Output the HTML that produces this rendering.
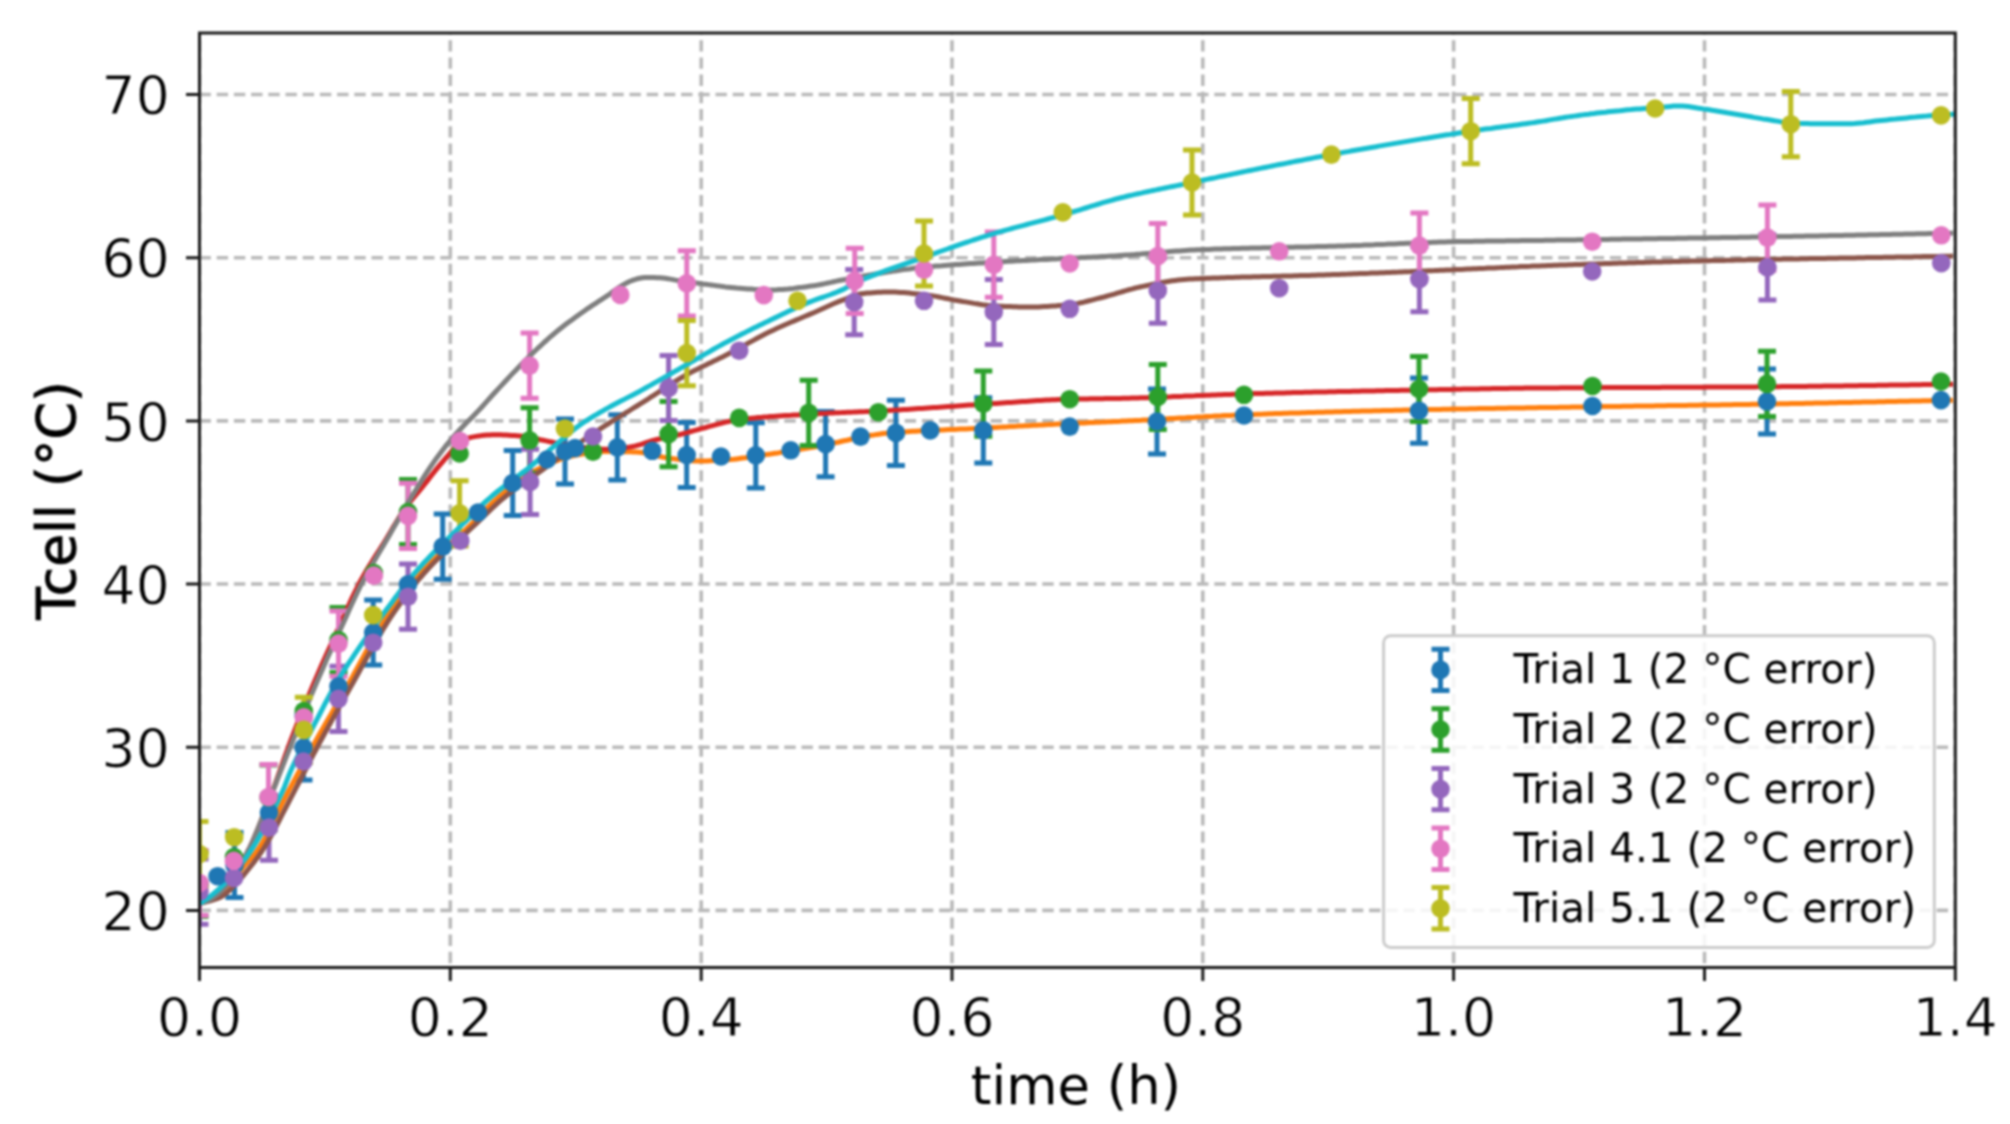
<!DOCTYPE html>
<html><head><meta charset="utf-8"><title>Tcell vs time</title>
<style>
html,body{margin:0;padding:0;background:#fff;}
body{width:2010px;height:1124px;overflow:hidden;}
svg{display:block;font-family:"DejaVu Sans","Liberation Sans",sans-serif;filter:blur(0.9px);}
.th{stroke:#fff;stroke-width:0.8px;}
.tk{stroke:#000;stroke-width:0.9px;}
</style></head><body>
<svg width="2010" height="1124" viewBox="0 0 2010 1124"><defs><clipPath id="ax"><rect x="199.5" y="33.0" width="1755.8" height="934.5"/></clipPath></defs><rect width="2010" height="1124" fill="#fff"/><g clip-path="url(#ax)" stroke="#b9b9b9" stroke-width="3.6" stroke-dasharray="11.4 5.8" fill="none"><path d="M199.5 967.5V33.0" stroke-dashoffset="-4.3"/><path d="M450.3 967.5V33.0" stroke-dashoffset="-4.3"/><path d="M701.2 967.5V33.0" stroke-dashoffset="-4.3"/><path d="M952.0 967.5V33.0" stroke-dashoffset="-4.3"/><path d="M1202.8 967.5V33.0" stroke-dashoffset="-4.3"/><path d="M1453.6 967.5V33.0" stroke-dashoffset="-4.3"/><path d="M1704.5 967.5V33.0" stroke-dashoffset="-4.3"/><path d="M1955.3 967.5V33.0" stroke-dashoffset="-4.3"/><path d="M199.5 910.4H1955.3"/><path d="M199.5 747.2H1955.3"/><path d="M199.5 584.0H1955.3"/><path d="M199.5 420.9H1955.3"/><path d="M199.5 257.7H1955.3"/><path d="M199.5 94.5H1955.3"/></g><g clip-path="url(#ax)"><path d="M234.5 832.4V897.6M225.5 832.4H243.5M225.5 897.6H243.5M303.5 714.9V780.1M294.5 714.9H312.5M294.5 780.1H312.5M373.2 599.9V665.1M364.2 599.9H382.2M364.2 665.1H382.2M442.7 514.0V579.2M433.7 514.0H451.7M433.7 579.2H451.7M512.7 450.4V515.6M503.7 450.4H521.7M503.7 515.6H521.7M565.0 418.9V484.1M556.0 418.9H574.0M556.0 484.1H574.0M617.3 414.7V479.9M608.3 414.7H626.3M608.3 479.9H626.3M686.7 422.4V487.6M677.7 422.4H695.7M677.7 487.6H695.7M755.8 422.7V487.9M746.8 422.7H764.8M746.8 487.9H764.8M825.6 411.5V476.7M816.6 411.5H834.6M816.6 476.7H834.6M895.9 400.3V465.5M886.9 400.3H904.9M886.9 465.5H904.9M983.3 397.8V463.0M974.3 397.8H992.3M974.3 463.0H992.3M1157.0 388.9V454.1M1148.0 388.9H1166.0M1148.0 454.1H1166.0M1419.0 378.1V443.3M1410.0 378.1H1428.0M1410.0 443.3H1428.0M1767.0 368.9V434.1M1758.0 368.9H1776.0M1758.0 434.1H1776.0" stroke="#1f77b4" stroke-width="5.0" fill="none"/><path d="M199.5 903.5 L202.0 902.6 L204.5 901.7 L207.0 900.7 L209.5 899.7 L212.0 898.5 L214.7 896.9 L217.3 894.9 L220.0 892.6 L222.7 890.2 L225.3 887.6 L228.0 885.0 L230.8 882.0 L233.7 878.8 L236.5 875.4 L239.3 871.9 L242.2 868.4 L245.0 865.0 L248.0 861.6 L251.0 858.3 L254.0 854.9 L257.0 851.0 L259.8 846.8 L262.6 842.2 L265.5 837.1 L268.3 831.8 L271.1 826.2 L273.9 820.5 L276.7 814.6 L279.5 808.8 L282.4 803.0 L285.2 797.4 L288.0 792.0 L290.9 786.6 L293.8 781.2 L296.7 775.8 L299.6 770.4 L302.4 765.1 L305.3 759.7 L308.2 754.5 L311.1 749.2 L314.0 744.0 L316.8 739.0 L319.6 734.0 L322.5 729.0 L325.3 724.1 L328.1 719.2 L330.9 714.4 L333.7 709.5 L336.5 704.6 L339.4 699.8 L342.2 694.9 L345.0 690.0 L347.9 684.8 L350.9 679.6 L353.8 674.3 L356.7 668.9 L359.7 663.5 L362.6 658.1 L365.5 652.7 L368.5 647.4 L371.4 642.2 L374.3 637.0 L377.3 632.0 L380.2 627.0 L383.1 622.3 L386.1 617.7 L389.0 613.4 L391.9 609.3 L394.7 605.4 L397.6 601.5 L400.4 597.8 L403.2 594.1 L406.1 590.6 L408.9 587.1 L411.8 583.7 L414.6 580.3 L417.5 577.1 L420.3 573.9 L423.2 570.7 L426.0 567.7 L428.8 564.7 L431.7 561.8 L434.5 559.0 L437.3 556.2 L440.1 553.5 L442.9 550.8 L445.8 548.2 L448.6 545.5 L451.4 542.9 L454.2 540.3 L457.0 537.7 L459.8 535.1 L462.7 532.4 L465.5 529.7 L468.3 527.0 L471.2 524.2 L474.1 521.2 L476.9 518.3 L479.8 515.3 L482.7 512.4 L485.6 509.5 L488.5 506.6 L491.4 503.8 L494.2 501.1 L497.1 498.5 L500.0 496.0 L502.9 493.6 L505.8 491.3 L508.7 488.9 L511.5 486.7 L514.4 484.4 L517.3 482.2 L520.2 480.1 L523.1 478.1 L526.0 476.1 L528.8 474.3 L531.7 472.5 L534.6 470.9 L537.5 469.4 L540.4 468.0 L543.2 466.6 L546.1 465.2 L549.0 463.9 L551.9 462.6 L554.8 461.4 L557.6 460.3 L560.5 459.2 L563.4 458.3 L566.2 457.4 L569.1 456.6 L572.0 456.0 L575.0 455.4 L578.0 454.8 L581.0 454.2 L584.0 453.7 L587.0 453.2 L590.0 452.7 L593.0 452.3 L596.0 452.0 L599.0 451.7 L602.0 451.6 L605.0 451.5 L607.8 451.5 L610.6 451.5 L613.5 451.5 L616.3 451.6 L619.1 451.6 L621.9 451.7 L624.7 451.7 L627.5 451.8 L630.4 451.8 L633.2 451.9 L636.0 452.0 L638.9 452.2 L641.8 452.5 L644.7 453.0 L647.6 453.6 L650.5 454.3 L653.5 455.0 L656.4 455.7 L659.3 456.4 L662.2 457.0 L665.1 457.6 L668.0 458.0 L671.0 458.4 L674.0 458.8 L677.0 459.2 L680.0 459.6 L683.0 460.0 L686.0 460.3 L689.0 460.6 L692.0 460.8 L695.0 461.0 L698.0 461.0 L701.0 461.0 L704.0 460.9 L707.0 460.9 L710.0 460.7 L713.0 460.6 L716.0 460.5 L719.0 460.3 L722.0 460.2 L725.0 460.0 L727.9 459.8 L730.8 459.6 L733.8 459.3 L736.7 458.9 L739.6 458.5 L742.5 458.1 L745.4 457.7 L748.3 457.2 L751.2 456.8 L754.2 456.4 L757.1 455.9 L760.0 455.5 L763.0 455.1 L766.0 454.6 L769.0 454.2 L772.0 453.8 L775.0 453.3 L778.0 452.9 L781.0 452.4 L784.0 451.9 L787.0 451.4 L790.0 451.0 L793.0 450.5 L796.0 450.0 L799.0 449.5 L802.0 449.0 L805.0 448.5 L808.0 448.0 L811.0 447.5 L814.0 447.0 L817.0 446.5 L820.0 445.9 L823.0 445.3 L826.0 444.7 L829.0 444.1 L832.0 443.5 L835.0 442.8 L838.0 442.2 L841.0 441.5 L844.0 440.8 L847.0 440.2 L850.0 439.5 L853.0 438.9 L856.0 438.2 L859.0 437.6 L862.0 437.0 L865.0 436.4 L868.0 435.9 L871.0 435.3 L874.0 434.9 L877.0 434.4 L880.0 434.0 L883.0 433.6 L886.0 433.3 L889.0 433.0 L892.0 432.8 L894.9 432.5 L897.9 432.3 L900.9 432.1 L903.8 431.9 L906.8 431.7 L909.8 431.5 L912.8 431.3 L915.7 431.2 L918.7 431.0 L921.7 430.8 L924.6 430.7 L927.6 430.5 L930.6 430.4 L933.5 430.3 L936.5 430.1 L939.5 430.0 L942.4 429.9 L945.4 429.7 L948.4 429.6 L951.3 429.5 L954.3 429.4 L957.3 429.2 L960.2 429.1 L963.2 429.0 L966.2 428.9 L969.2 428.7 L972.1 428.6 L975.1 428.4 L978.1 428.3 L981.0 428.2 L984.0 428.0 L986.9 427.8 L989.8 427.7 L992.8 427.5 L995.7 427.4 L998.6 427.2 L1001.5 427.1 L1004.5 426.9 L1007.4 426.8 L1010.3 426.6 L1013.2 426.4 L1016.2 426.3 L1019.1 426.1 L1022.0 426.0 L1024.9 425.8 L1027.8 425.7 L1030.8 425.5 L1033.7 425.3 L1036.6 425.2 L1039.5 425.0 L1042.5 424.9 L1045.4 424.7 L1048.3 424.6 L1051.2 424.4 L1054.2 424.3 L1057.1 424.1 L1060.0 424.0 L1063.0 423.9 L1066.0 423.7 L1069.0 423.6 L1072.0 423.4 L1075.0 423.3 L1078.0 423.1 L1081.0 423.0 L1084.0 422.9 L1087.0 422.7 L1090.0 422.6 L1093.0 422.5 L1096.0 422.3 L1099.0 422.2 L1102.0 422.1 L1105.0 421.9 L1108.0 421.8 L1111.0 421.7 L1114.0 421.5 L1117.0 421.4 L1120.0 421.3 L1123.0 421.1 L1126.0 421.0 L1129.0 420.8 L1132.0 420.7 L1135.0 420.5 L1138.0 420.4 L1141.0 420.3 L1143.9 420.1 L1146.9 419.9 L1149.9 419.8 L1152.9 419.6 L1155.8 419.5 L1158.8 419.3 L1161.8 419.1 L1164.8 419.0 L1167.7 418.8 L1170.7 418.6 L1173.7 418.5 L1176.6 418.3 L1179.6 418.1 L1182.6 417.9 L1185.6 417.8 L1188.5 417.6 L1191.5 417.4 L1194.5 417.3 L1197.5 417.1 L1200.4 416.9 L1203.4 416.8 L1206.4 416.6 L1209.4 416.4 L1212.3 416.3 L1215.3 416.1 L1218.3 415.9 L1221.2 415.8 L1224.2 415.6 L1227.2 415.5 L1230.2 415.4 L1233.1 415.2 L1236.1 415.1 L1239.1 415.0 L1242.1 414.8 L1245.0 414.7 L1248.0 414.6 L1251.0 414.5 L1254.0 414.4 L1257.0 414.3 L1260.0 414.2 L1263.0 414.1 L1266.0 413.9 L1269.0 413.8 L1272.0 413.7 L1275.0 413.6 L1278.0 413.5 L1281.0 413.4 L1284.0 413.3 L1287.0 413.2 L1290.0 413.1 L1293.0 413.1 L1296.0 413.0 L1299.0 412.9 L1302.0 412.8 L1305.0 412.7 L1308.0 412.6 L1311.0 412.5 L1314.0 412.4 L1317.0 412.3 L1320.0 412.2 L1323.0 412.2 L1326.0 412.1 L1329.0 412.0 L1332.0 411.9 L1335.0 411.8 L1338.0 411.7 L1341.0 411.7 L1344.0 411.6 L1347.0 411.5 L1350.0 411.4 L1353.0 411.3 L1356.0 411.3 L1359.0 411.2 L1362.0 411.1 L1365.0 411.0 L1368.0 411.0 L1371.0 410.9 L1374.0 410.8 L1377.0 410.8 L1380.0 410.7 L1383.0 410.6 L1386.0 410.5 L1389.0 410.5 L1392.0 410.4 L1395.0 410.3 L1398.0 410.3 L1401.0 410.2 L1404.0 410.1 L1407.0 410.1 L1410.0 410.0 L1413.0 409.9 L1416.0 409.9 L1419.0 409.8 L1422.0 409.7 L1425.0 409.7 L1428.0 409.6 L1431.0 409.5 L1434.0 409.5 L1437.0 409.4 L1440.0 409.4 L1443.0 409.3 L1446.0 409.2 L1449.0 409.2 L1452.0 409.1 L1455.0 409.1 L1458.0 409.0 L1461.0 409.0 L1464.0 408.9 L1467.0 408.9 L1470.0 408.8 L1473.0 408.8 L1476.0 408.7 L1479.0 408.6 L1482.0 408.6 L1485.0 408.5 L1488.0 408.5 L1491.0 408.4 L1494.0 408.4 L1497.0 408.3 L1500.0 408.3 L1503.0 408.2 L1506.0 408.2 L1509.0 408.1 L1512.0 408.1 L1515.0 408.0 L1518.0 408.0 L1521.0 407.9 L1524.0 407.9 L1527.0 407.8 L1530.0 407.8 L1533.0 407.7 L1536.0 407.7 L1539.0 407.6 L1542.0 407.6 L1545.0 407.5 L1548.0 407.5 L1551.0 407.4 L1554.0 407.4 L1557.0 407.4 L1560.0 407.3 L1563.0 407.3 L1566.0 407.2 L1569.0 407.2 L1572.0 407.1 L1575.0 407.1 L1578.0 407.0 L1581.0 407.0 L1584.0 406.9 L1587.0 406.9 L1590.0 406.8 L1593.0 406.8 L1596.0 406.7 L1599.0 406.7 L1602.0 406.6 L1605.0 406.6 L1608.0 406.5 L1611.0 406.5 L1614.0 406.4 L1617.0 406.4 L1620.0 406.4 L1623.0 406.3 L1626.0 406.3 L1629.0 406.2 L1632.0 406.2 L1635.0 406.1 L1638.0 406.1 L1641.0 406.0 L1644.0 406.0 L1647.0 406.0 L1650.0 405.9 L1653.0 405.9 L1656.0 405.8 L1659.0 405.8 L1662.0 405.7 L1665.0 405.7 L1668.0 405.6 L1671.0 405.6 L1674.0 405.6 L1677.0 405.5 L1680.0 405.5 L1683.0 405.4 L1686.0 405.4 L1689.0 405.3 L1692.0 405.3 L1695.0 405.2 L1698.0 405.2 L1701.0 405.1 L1704.0 405.1 L1707.0 405.0 L1710.0 405.0 L1713.0 405.0 L1716.0 404.9 L1719.0 404.9 L1722.0 404.8 L1725.0 404.8 L1728.0 404.7 L1731.0 404.7 L1734.0 404.6 L1737.0 404.6 L1740.0 404.5 L1743.0 404.5 L1746.0 404.4 L1749.0 404.4 L1752.0 404.3 L1755.0 404.3 L1758.0 404.2 L1761.0 404.2 L1764.0 404.1 L1767.0 404.0 L1770.0 404.0 L1773.0 403.9 L1776.0 403.9 L1779.0 403.8 L1782.0 403.8 L1785.0 403.7 L1788.0 403.7 L1791.0 403.6 L1794.0 403.5 L1797.0 403.5 L1800.0 403.4 L1803.0 403.4 L1806.0 403.3 L1809.0 403.2 L1812.0 403.2 L1815.0 403.1 L1818.0 403.1 L1821.0 403.0 L1824.0 402.9 L1827.0 402.9 L1830.0 402.8 L1833.0 402.8 L1836.0 402.7 L1839.0 402.6 L1842.0 402.6 L1845.0 402.5 L1848.0 402.4 L1851.0 402.4 L1854.0 402.3 L1857.0 402.2 L1860.0 402.2 L1863.0 402.1 L1866.0 402.1 L1869.0 402.0 L1872.0 401.9 L1875.0 401.9 L1878.0 401.8 L1881.0 401.7 L1884.0 401.7 L1887.0 401.6 L1890.0 401.5 L1893.0 401.5 L1896.0 401.4 L1899.0 401.3 L1902.0 401.3 L1905.0 401.2 L1908.0 401.2 L1911.0 401.1 L1914.0 401.0 L1917.0 401.0 L1920.0 400.9 L1923.0 400.8 L1926.0 400.8 L1929.0 400.7 L1932.0 400.6 L1935.0 400.6 L1938.0 400.5 L1941.0 400.4 L1944.0 400.4 L1947.0 400.3 L1950.0 400.3 L1953.0 400.2" stroke="#ff7f0e" stroke-width="5.0" fill="none" stroke-linejoin="round" stroke-linecap="butt"/><path d="M199.5 851.4V916.6M190.5 851.4H208.5M190.5 916.6H208.5M268.5 764.9V830.1M259.5 764.9H277.5M259.5 830.1H277.5M338.5 607.4V672.6M329.5 607.4H347.5M329.5 672.6H347.5M408.0 479.4V544.6M399.0 479.4H417.0M399.0 544.6H417.0M529.6 407.7V472.9M520.6 407.7H538.6M520.6 472.9H538.6M668.6 401.5V466.7M659.6 401.5H677.6M659.6 466.7H677.6M808.7 380.3V445.5M799.7 380.3H817.7M799.7 445.5H817.7M983.3 371.1V436.3M974.3 371.1H992.3M974.3 436.3H992.3M1157.8 364.4V429.6M1148.8 364.4H1166.8M1148.8 429.6H1166.8M1419.0 356.4V421.6M1410.0 356.4H1428.0M1410.0 421.6H1428.0M1767.0 351.3V416.5M1758.0 351.3H1776.0M1758.0 416.5H1776.0" stroke="#2ca02c" stroke-width="5.0" fill="none"/><path d="M199.5 903.5 L202.1 902.6 L204.8 901.7 L207.4 900.7 L210.0 899.5 L213.0 897.7 L216.0 895.5 L219.0 893.0 L222.0 890.1 L225.0 887.0 L227.8 883.9 L230.5 880.3 L233.2 876.4 L236.0 872.2 L238.8 867.7 L241.5 863.0 L244.2 858.1 L247.0 853.0 L249.9 847.3 L252.8 841.1 L255.6 834.5 L258.5 827.5 L261.4 820.3 L264.2 812.9 L267.1 805.4 L270.0 798.0 L273.0 790.1 L276.0 781.9 L279.0 773.4 L282.0 764.9 L285.0 756.4 L288.0 748.0 L291.0 740.0 L293.8 732.7 L296.6 725.4 L299.4 718.3 L302.2 711.3 L305.1 704.3 L307.9 697.5 L310.7 690.7 L313.5 684.0 L316.3 677.5 L319.1 671.1 L321.8 664.8 L324.6 658.6 L327.4 652.4 L330.2 646.2 L332.9 640.1 L335.7 634.1 L338.5 628.0 L341.2 621.9 L344.0 615.8 L346.8 609.7 L349.5 603.6 L352.2 597.6 L355.0 591.8 L357.8 586.3 L360.5 581.0 L363.2 576.1 L365.9 571.4 L368.7 566.9 L371.4 562.5 L374.1 558.2 L376.8 553.9 L379.6 549.7 L382.3 545.4 L385.0 541.0 L387.7 536.5 L390.4 531.9 L393.1 527.3 L395.9 522.7 L398.6 518.3 L401.3 514.0 L404.0 510.0 L406.9 506.0 L409.8 502.2 L412.7 498.6 L415.7 495.1 L418.6 491.6 L421.5 488.1 L424.4 484.5 L427.1 481.1 L429.7 477.7 L432.4 474.3 L435.0 470.9 L437.7 467.6 L440.4 464.4 L443.0 461.3 L445.7 458.2 L448.4 455.2 L450.8 452.3 L453.2 449.4 L455.6 446.7 L458.0 444.5 L460.5 442.6 L463.0 440.9 L465.6 439.3 L468.1 438.2 L470.6 437.4 L473.3 436.9 L476.0 436.4 L478.7 436.0 L481.4 435.6 L484.2 435.3 L486.9 435.0 L489.6 434.9 L492.3 434.7 L495.0 434.7 L497.8 434.7 L500.6 434.8 L503.3 434.9 L506.1 435.0 L508.9 435.2 L511.7 435.4 L514.4 435.6 L517.2 435.8 L520.0 436.0 L522.9 436.3 L525.8 436.7 L528.7 437.2 L531.6 437.8 L534.5 438.4 L537.4 439.0 L540.3 439.7 L543.2 440.3 L546.1 440.9 L549.0 441.5 L551.8 442.0 L554.6 442.6 L557.5 443.1 L560.3 443.7 L563.1 444.2 L565.9 444.8 L568.7 445.3 L571.5 445.8 L574.4 446.2 L577.2 446.6 L580.0 447.0 L582.9 447.3 L585.8 447.7 L588.7 448.0 L591.6 448.4 L594.4 448.7 L597.3 448.9 L600.2 449.1 L603.1 449.3 L606.0 449.3 L609.0 449.2 L612.0 449.1 L615.0 448.9 L618.0 448.6 L621.0 448.2 L624.0 447.8 L627.0 447.4 L630.0 447.0 L632.8 446.5 L635.6 445.9 L638.3 445.1 L641.1 444.3 L643.9 443.4 L646.7 442.5 L649.4 441.6 L652.2 440.7 L655.0 440.0 L658.0 439.3 L661.0 438.6 L664.0 437.9 L667.0 437.3 L670.0 436.7 L673.0 436.1 L676.0 435.4 L679.0 434.7 L682.0 434.0 L685.0 433.2 L688.0 432.4 L691.0 431.5 L694.0 430.7 L697.0 429.8 L700.0 429.0 L702.9 428.2 L705.7 427.5 L708.6 426.7 L711.4 425.9 L714.3 425.1 L717.1 424.3 L720.0 423.6 L722.9 422.8 L725.7 422.1 L728.6 421.5 L731.4 420.9 L734.3 420.4 L737.1 419.9 L740.0 419.5 L743.0 419.1 L746.0 418.8 L749.0 418.5 L752.0 418.2 L755.0 417.9 L758.0 417.6 L761.0 417.4 L764.0 417.1 L767.0 416.9 L770.0 416.6 L773.0 416.4 L776.0 416.2 L779.0 416.0 L782.0 415.8 L785.0 415.6 L788.0 415.4 L791.0 415.3 L794.0 415.1 L797.0 414.9 L800.0 414.7 L803.0 414.6 L806.0 414.4 L809.0 414.2 L812.0 414.0 L814.9 413.9 L817.9 413.7 L820.9 413.5 L823.8 413.4 L826.8 413.3 L829.7 413.1 L832.7 413.0 L835.7 412.8 L838.6 412.7 L841.6 412.6 L844.6 412.4 L847.5 412.3 L850.5 412.2 L853.4 412.1 L856.4 411.9 L859.4 411.8 L862.3 411.7 L865.3 411.6 L868.3 411.4 L871.2 411.3 L874.2 411.1 L877.1 411.0 L880.1 410.9 L883.1 410.7 L886.0 410.6 L889.0 410.4 L892.0 410.2 L894.9 410.1 L897.9 409.9 L900.9 409.7 L903.8 409.5 L906.8 409.4 L909.8 409.2 L912.8 409.0 L915.7 408.8 L918.7 408.6 L921.7 408.4 L924.6 408.2 L927.6 408.0 L930.6 407.8 L933.5 407.6 L936.5 407.4 L939.5 407.2 L942.4 407.0 L945.4 406.8 L948.4 406.6 L951.3 406.4 L954.3 406.2 L957.3 405.9 L960.2 405.7 L963.2 405.5 L966.2 405.3 L969.2 405.1 L972.1 405.0 L975.1 404.8 L978.1 404.6 L981.0 404.4 L984.0 404.2 L987.0 404.0 L989.9 403.8 L992.9 403.6 L995.9 403.4 L998.8 403.2 L1001.8 403.0 L1004.8 402.8 L1007.7 402.6 L1010.7 402.4 L1013.7 402.2 L1016.6 402.0 L1019.6 401.8 L1022.6 401.6 L1025.5 401.4 L1028.5 401.2 L1031.4 401.0 L1034.4 400.8 L1037.4 400.6 L1040.3 400.5 L1043.3 400.3 L1046.3 400.1 L1049.2 400.0 L1052.2 399.8 L1055.2 399.7 L1058.1 399.6 L1061.1 399.5 L1064.1 399.4 L1067.0 399.3 L1070.0 399.2 L1072.9 399.1 L1075.9 399.1 L1078.8 399.0 L1081.8 399.0 L1084.7 398.9 L1087.6 398.9 L1090.6 398.8 L1093.5 398.8 L1096.5 398.8 L1099.4 398.7 L1102.4 398.7 L1105.3 398.6 L1108.2 398.6 L1111.2 398.6 L1114.1 398.5 L1117.1 398.5 L1120.0 398.4 L1123.0 398.3 L1126.0 398.3 L1128.9 398.2 L1131.9 398.1 L1134.9 398.0 L1137.9 397.9 L1140.8 397.8 L1143.8 397.8 L1146.8 397.7 L1149.8 397.5 L1152.7 397.4 L1155.7 397.3 L1158.7 397.2 L1161.7 397.1 L1164.7 397.0 L1167.6 396.9 L1170.6 396.8 L1173.6 396.6 L1176.6 396.5 L1179.5 396.4 L1182.5 396.3 L1185.5 396.1 L1188.5 396.0 L1191.4 395.9 L1194.4 395.8 L1197.4 395.6 L1200.4 395.5 L1203.3 395.4 L1206.3 395.3 L1209.3 395.2 L1212.3 395.0 L1215.3 394.9 L1218.2 394.8 L1221.2 394.7 L1224.2 394.6 L1227.2 394.5 L1230.1 394.4 L1233.1 394.3 L1236.1 394.2 L1239.1 394.1 L1242.0 394.0 L1245.0 393.9 L1248.0 393.8 L1251.0 393.7 L1254.0 393.6 L1257.0 393.6 L1260.0 393.5 L1263.0 393.4 L1266.0 393.3 L1269.0 393.2 L1272.0 393.2 L1275.0 393.1 L1278.0 393.0 L1281.0 392.9 L1284.0 392.9 L1287.0 392.8 L1290.0 392.7 L1293.0 392.6 L1296.0 392.6 L1299.0 392.5 L1302.0 392.4 L1305.0 392.3 L1308.0 392.3 L1311.0 392.2 L1314.0 392.1 L1317.0 392.1 L1320.0 392.0 L1323.0 391.9 L1326.0 391.9 L1329.0 391.8 L1332.0 391.7 L1335.0 391.7 L1338.0 391.6 L1341.0 391.5 L1344.0 391.5 L1347.0 391.4 L1350.0 391.4 L1353.0 391.3 L1356.0 391.2 L1359.0 391.2 L1362.0 391.1 L1365.0 391.0 L1368.0 391.0 L1371.0 390.9 L1374.0 390.9 L1377.0 390.8 L1380.0 390.7 L1383.0 390.7 L1386.0 390.6 L1389.0 390.6 L1392.0 390.5 L1395.0 390.5 L1398.0 390.4 L1401.0 390.3 L1404.0 390.3 L1407.0 390.2 L1410.0 390.2 L1413.0 390.1 L1416.0 390.1 L1419.0 390.0 L1422.0 389.9 L1424.9 389.9 L1427.9 389.8 L1430.8 389.8 L1433.8 389.7 L1436.7 389.7 L1439.7 389.6 L1442.6 389.5 L1445.6 389.5 L1448.5 389.4 L1451.5 389.4 L1454.4 389.3 L1457.4 389.3 L1460.3 389.2 L1463.3 389.1 L1466.2 389.1 L1469.2 389.0 L1472.1 389.0 L1475.1 388.9 L1478.0 388.9 L1481.0 388.8 L1483.9 388.8 L1486.9 388.7 L1489.8 388.7 L1492.8 388.6 L1495.7 388.6 L1498.7 388.5 L1501.6 388.5 L1504.6 388.4 L1507.5 388.4 L1510.5 388.3 L1513.4 388.3 L1516.4 388.3 L1519.3 388.2 L1522.3 388.2 L1525.2 388.1 L1528.2 388.1 L1531.1 388.1 L1534.1 388.1 L1537.0 388.0 L1540.0 388.0 L1543.0 388.0 L1546.0 388.0 L1549.0 387.9 L1551.9 387.9 L1554.9 387.9 L1557.9 387.9 L1560.9 387.8 L1563.9 387.8 L1566.9 387.8 L1569.9 387.8 L1572.9 387.8 L1575.8 387.7 L1578.8 387.7 L1581.8 387.7 L1584.8 387.7 L1587.8 387.7 L1590.8 387.7 L1593.8 387.6 L1596.7 387.6 L1599.7 387.6 L1602.7 387.6 L1605.7 387.6 L1608.7 387.6 L1611.7 387.5 L1614.7 387.5 L1617.7 387.5 L1620.6 387.5 L1623.6 387.5 L1626.6 387.5 L1629.6 387.5 L1632.6 387.5 L1635.6 387.4 L1638.6 387.4 L1641.5 387.4 L1644.5 387.4 L1647.5 387.4 L1650.5 387.4 L1653.5 387.4 L1656.5 387.4 L1659.5 387.4 L1662.5 387.3 L1665.4 387.3 L1668.4 387.3 L1671.4 387.3 L1674.4 387.3 L1677.4 387.3 L1680.4 387.3 L1683.4 387.3 L1686.3 387.2 L1689.3 387.2 L1692.3 387.2 L1695.3 387.2 L1698.3 387.2 L1701.3 387.2 L1704.3 387.2 L1707.3 387.1 L1710.2 387.1 L1713.2 387.1 L1716.2 387.1 L1719.2 387.1 L1722.2 387.1 L1725.2 387.1 L1728.2 387.0 L1731.1 387.0 L1734.1 387.0 L1737.1 387.0 L1740.1 387.0 L1743.1 386.9 L1746.1 386.9 L1749.1 386.9 L1752.1 386.9 L1755.0 386.9 L1758.0 386.8 L1761.0 386.8 L1764.0 386.8 L1767.0 386.8 L1770.0 386.8 L1773.0 386.7 L1776.0 386.7 L1779.0 386.7 L1782.0 386.6 L1785.0 386.6 L1788.0 386.6 L1791.0 386.5 L1794.0 386.5 L1797.0 386.5 L1800.0 386.4 L1803.0 386.4 L1806.0 386.4 L1809.0 386.3 L1812.0 386.3 L1815.0 386.3 L1818.0 386.2 L1821.0 386.2 L1824.0 386.1 L1827.0 386.1 L1830.0 386.1 L1833.0 386.0 L1836.0 386.0 L1839.0 385.9 L1842.0 385.9 L1845.0 385.8 L1848.0 385.8 L1851.0 385.8 L1854.0 385.7 L1857.0 385.7 L1860.0 385.6 L1863.0 385.6 L1866.0 385.5 L1869.0 385.5 L1872.0 385.4 L1875.0 385.4 L1878.0 385.3 L1881.0 385.3 L1884.0 385.2 L1887.0 385.2 L1890.0 385.1 L1893.0 385.1 L1896.0 385.1 L1899.0 385.0 L1902.0 385.0 L1905.0 384.9 L1908.0 384.9 L1911.0 384.8 L1914.0 384.8 L1917.0 384.7 L1920.0 384.7 L1923.0 384.6 L1926.0 384.6 L1929.0 384.5 L1932.0 384.5 L1935.0 384.5 L1938.0 384.4 L1941.0 384.4 L1944.0 384.3 L1947.0 384.3 L1950.0 384.2 L1953.0 384.2" stroke="#d62728" stroke-width="5.0" fill="none" stroke-linejoin="round" stroke-linecap="butt"/><path d="M199.5 859.0V924.2M190.5 859.0H208.5M190.5 924.2H208.5M269.0 795.0V860.2M260.0 795.0H278.0M260.0 860.2H278.0M338.5 666.2V731.4M329.5 666.2H347.5M329.5 731.4H347.5M408.0 564.1V629.3M399.0 564.1H417.0M399.0 629.3H417.0M530.1 449.3V514.5M521.1 449.3H539.1M521.1 514.5H539.1M668.6 355.4V420.6M659.6 355.4H677.6M659.6 420.6H677.6M854.2 269.5V334.7M845.2 269.5H863.2M845.2 334.7H863.2M993.8 279.4V344.6M984.8 279.4H1002.8M984.8 344.6H1002.8M1157.8 258.1V323.3M1148.8 258.1H1166.8M1148.8 323.3H1166.8M1419.4 246.6V311.8M1410.4 246.6H1428.4M1410.4 311.8H1428.4M1767.4 234.7V299.9M1758.4 234.7H1776.4M1758.4 299.9H1776.4" stroke="#9467bd" stroke-width="5.0" fill="none"/><path d="M199.5 903.5 L202.4 902.7 L205.4 902.0 L208.3 901.3 L211.2 900.5 L214.1 899.7 L217.1 898.7 L220.0 897.5 L222.8 895.9 L225.6 893.8 L228.4 891.4 L231.2 888.7 L234.0 886.0 L236.6 883.4 L239.2 880.5 L241.8 877.4 L244.4 874.2 L247.0 871.0 L250.0 867.3 L253.0 863.5 L256.0 859.5 L259.0 855.4 L262.0 851.0 L264.9 846.5 L267.7 841.7 L270.6 836.7 L273.5 831.5 L276.3 826.1 L279.2 820.6 L282.0 815.0 L284.9 809.4 L287.8 803.8 L290.6 798.3 L293.5 792.8 L296.3 787.4 L299.2 782.0 L302.0 776.5 L304.8 771.0 L307.7 765.5 L310.5 760.0 L313.3 754.6 L316.2 749.2 L319.0 743.9 L321.8 738.7 L324.6 733.5 L327.5 728.3 L330.3 723.2 L333.1 718.1 L335.9 713.0 L338.7 708.0 L341.5 703.0 L344.4 698.0 L347.2 693.0 L350.0 688.0 L352.9 682.9 L355.8 677.7 L358.7 672.5 L361.5 667.3 L364.4 662.0 L367.3 656.8 L370.2 651.7 L373.1 646.5 L376.0 641.5 L378.9 636.5 L381.8 631.6 L384.6 626.8 L387.5 622.2 L390.4 617.7 L393.3 613.4 L396.1 609.4 L398.8 605.5 L401.6 601.6 L404.3 597.8 L407.1 594.1 L409.9 590.5 L412.6 587.0 L415.4 583.6 L418.1 580.2 L420.9 577.0 L423.6 573.8 L426.4 570.7 L429.3 567.6 L432.2 564.5 L435.1 561.6 L437.9 558.7 L440.8 556.0 L443.7 553.2 L446.6 550.5 L449.5 547.9 L452.4 545.3 L455.3 542.7 L458.2 540.1 L461.1 537.5 L463.9 534.9 L466.8 532.3 L469.7 529.7 L472.6 527.0 L475.4 524.4 L478.2 521.7 L481.0 519.0 L483.7 516.3 L486.5 513.7 L489.3 511.0 L492.1 508.3 L494.9 505.7 L497.6 503.2 L500.4 500.7 L503.2 498.3 L506.0 496.0 L508.8 493.7 L511.7 491.5 L514.5 489.4 L517.4 487.3 L520.2 485.3 L523.1 483.3 L525.9 481.3 L528.8 479.4 L531.6 477.4 L534.5 475.4 L537.3 473.4 L540.2 471.4 L543.0 469.4 L545.9 467.3 L548.8 465.1 L551.7 463.0 L554.6 460.8 L557.5 458.7 L560.5 456.5 L563.4 454.4 L566.3 452.3 L569.2 450.1 L572.1 448.1 L575.0 446.0 L577.8 444.1 L580.5 442.2 L583.3 440.3 L586.0 438.4 L588.8 436.5 L591.5 434.7 L594.3 432.8 L597.0 431.0 L599.8 429.2 L602.5 427.4 L605.3 425.6 L608.2 423.8 L611.1 421.9 L613.9 420.1 L616.8 418.3 L619.7 416.6 L622.6 414.8 L625.4 413.0 L628.3 411.3 L631.2 409.5 L634.1 407.7 L636.9 406.0 L639.8 404.2 L642.7 402.4 L645.5 400.6 L648.4 398.8 L651.2 396.9 L654.1 395.1 L656.9 393.2 L659.8 391.3 L662.6 389.5 L665.5 387.6 L668.3 385.8 L671.2 384.0 L674.0 382.2 L676.9 380.4 L679.7 378.7 L682.6 377.0 L685.4 375.4 L688.3 373.8 L691.1 372.3 L694.0 370.8 L696.8 369.4 L699.7 367.9 L702.5 366.5 L705.4 365.2 L708.2 363.8 L711.1 362.4 L713.9 361.1 L716.8 359.7 L719.6 358.3 L722.5 356.9 L725.3 355.5 L728.2 354.0 L731.0 352.5 L733.9 351.0 L736.7 349.5 L739.6 347.9 L742.4 346.3 L745.3 344.8 L748.1 343.2 L751.0 341.6 L753.8 340.1 L756.7 338.5 L759.5 337.0 L762.4 335.5 L765.2 334.0 L768.1 332.6 L770.9 331.2 L773.7 329.9 L776.6 328.5 L779.4 327.3 L782.3 326.0 L785.1 324.7 L788.0 323.5 L790.8 322.3 L793.7 321.1 L796.5 319.9 L799.4 318.7 L802.2 317.5 L805.1 316.3 L807.9 315.1 L810.8 313.9 L813.6 312.7 L816.4 311.5 L819.1 310.3 L821.9 309.0 L824.7 307.7 L827.4 306.5 L830.2 305.2 L832.9 304.0 L835.7 302.8 L838.5 301.7 L841.2 300.6 L844.0 299.6 L846.9 298.5 L849.7 297.4 L852.6 296.4 L855.4 295.4 L858.3 294.5 L861.1 293.8 L864.0 293.4 L866.8 293.1 L869.6 292.9 L872.3 292.7 L875.1 292.5 L877.9 292.3 L880.7 292.2 L883.4 292.1 L886.2 292.0 L889.0 292.0 L891.9 292.0 L894.8 292.1 L897.8 292.2 L900.7 292.4 L903.6 292.6 L906.5 292.8 L909.4 293.1 L912.3 293.4 L915.2 293.7 L918.2 294.0 L921.1 294.3 L924.0 294.6 L927.0 295.0 L930.0 295.4 L933.0 295.9 L936.0 296.4 L939.0 297.0 L942.0 297.6 L945.0 298.2 L948.0 298.8 L951.0 299.4 L954.0 300.0 L957.0 300.5 L960.0 301.0 L962.8 301.5 L965.6 301.9 L968.5 302.4 L971.3 302.9 L974.1 303.4 L976.9 303.8 L979.7 304.3 L982.5 304.7 L985.3 305.0 L988.2 305.4 L991.0 305.6 L993.8 305.8 L996.6 305.9 L999.4 306.1 L1002.2 306.2 L1004.9 306.4 L1007.7 306.5 L1010.5 306.6 L1013.3 306.7 L1016.1 306.8 L1018.9 306.9 L1021.6 306.9 L1024.4 307.0 L1027.2 307.0 L1030.0 307.0 L1032.8 307.0 L1035.7 306.9 L1038.5 306.9 L1041.3 306.7 L1044.2 306.6 L1047.0 306.5 L1049.8 306.3 L1052.7 306.1 L1055.5 305.9 L1058.4 305.6 L1061.2 305.4 L1064.0 305.1 L1066.9 304.9 L1069.7 304.6 L1072.5 304.3 L1075.2 303.9 L1078.0 303.4 L1080.7 302.8 L1083.5 302.2 L1086.2 301.5 L1089.0 300.8 L1091.7 300.1 L1094.5 299.4 L1097.2 298.7 L1100.0 298.0 L1102.9 297.3 L1105.7 296.5 L1108.6 295.7 L1111.4 294.9 L1114.3 294.1 L1117.1 293.2 L1120.0 292.3 L1122.9 291.5 L1125.7 290.7 L1128.6 289.8 L1131.4 289.1 L1134.3 288.3 L1137.1 287.6 L1140.0 287.0 L1142.9 286.4 L1145.9 285.8 L1148.8 285.1 L1151.7 284.5 L1154.7 283.9 L1157.6 283.3 L1160.5 282.7 L1163.5 282.2 L1166.4 281.7 L1169.3 281.2 L1172.3 280.8 L1175.2 280.4 L1178.1 280.0 L1181.1 279.7 L1184.0 279.5 L1186.9 279.3 L1189.8 279.1 L1192.6 279.0 L1195.5 278.8 L1198.4 278.7 L1201.2 278.5 L1204.1 278.4 L1207.0 278.3 L1209.9 278.2 L1212.8 278.1 L1215.6 278.0 L1218.5 277.9 L1221.4 277.8 L1224.2 277.7 L1227.1 277.6 L1230.0 277.5 L1232.9 277.4 L1235.9 277.3 L1238.8 277.2 L1241.7 277.1 L1244.6 277.0 L1247.6 277.0 L1250.5 276.9 L1253.4 276.8 L1256.4 276.7 L1259.3 276.7 L1262.2 276.6 L1265.1 276.5 L1268.1 276.4 L1271.0 276.4 L1273.9 276.3 L1276.9 276.2 L1279.8 276.2 L1282.7 276.1 L1285.6 276.0 L1288.6 275.9 L1291.5 275.9 L1294.4 275.8 L1297.4 275.7 L1300.3 275.6 L1303.2 275.6 L1306.1 275.5 L1309.1 275.4 L1312.0 275.3 L1315.0 275.2 L1318.0 275.1 L1321.0 275.0 L1323.9 274.9 L1326.9 274.8 L1329.9 274.7 L1332.9 274.6 L1335.9 274.5 L1338.8 274.4 L1341.8 274.3 L1344.8 274.2 L1347.8 274.1 L1350.8 273.9 L1353.8 273.8 L1356.8 273.7 L1359.7 273.6 L1362.7 273.5 L1365.7 273.4 L1368.7 273.3 L1371.7 273.1 L1374.7 273.0 L1377.6 272.9 L1380.6 272.8 L1383.6 272.7 L1386.6 272.5 L1389.6 272.4 L1392.6 272.3 L1395.5 272.2 L1398.5 272.1 L1401.5 271.9 L1404.5 271.8 L1407.5 271.7 L1410.5 271.6 L1413.4 271.4 L1416.4 271.3 L1419.4 271.2 L1422.4 271.1 L1425.4 271.0 L1428.4 270.8 L1431.4 270.7 L1434.4 270.6 L1437.3 270.4 L1440.3 270.3 L1443.3 270.2 L1446.3 270.0 L1449.3 269.9 L1452.3 269.8 L1455.3 269.6 L1458.3 269.5 L1461.3 269.4 L1464.3 269.2 L1467.3 269.1 L1470.3 269.0 L1473.2 268.8 L1476.2 268.7 L1479.2 268.5 L1482.2 268.4 L1485.2 268.3 L1488.2 268.1 L1491.2 268.0 L1494.2 267.9 L1497.2 267.7 L1500.2 267.6 L1503.2 267.4 L1506.2 267.3 L1509.1 267.2 L1512.1 267.0 L1515.1 266.9 L1518.1 266.8 L1521.1 266.6 L1524.1 266.5 L1527.1 266.4 L1530.1 266.3 L1533.1 266.1 L1536.1 266.0 L1539.1 265.9 L1542.1 265.8 L1545.0 265.7 L1548.0 265.5 L1551.0 265.4 L1554.0 265.3 L1557.0 265.2 L1560.0 265.1 L1563.0 265.0 L1566.0 264.9 L1568.9 264.8 L1571.9 264.7 L1574.9 264.6 L1577.9 264.5 L1580.9 264.4 L1583.8 264.3 L1586.8 264.2 L1589.8 264.1 L1592.8 264.0 L1595.7 263.9 L1598.7 263.8 L1601.7 263.7 L1604.7 263.6 L1607.7 263.5 L1610.6 263.4 L1613.6 263.3 L1616.6 263.2 L1619.6 263.1 L1622.6 263.0 L1625.5 262.9 L1628.5 262.8 L1631.5 262.8 L1634.5 262.7 L1637.4 262.6 L1640.4 262.5 L1643.4 262.4 L1646.4 262.3 L1649.4 262.2 L1652.3 262.1 L1655.3 262.1 L1658.3 262.0 L1661.3 261.9 L1664.3 261.8 L1667.2 261.7 L1670.2 261.7 L1673.2 261.6 L1676.2 261.5 L1679.1 261.4 L1682.1 261.3 L1685.1 261.3 L1688.1 261.2 L1691.1 261.1 L1694.0 261.0 L1697.0 261.0 L1700.0 260.9 L1703.0 260.8 L1706.0 260.8 L1708.9 260.7 L1711.9 260.6 L1714.9 260.6 L1717.9 260.5 L1720.8 260.4 L1723.8 260.4 L1726.8 260.3 L1729.8 260.2 L1732.7 260.2 L1735.7 260.1 L1738.7 260.0 L1741.7 260.0 L1744.6 259.9 L1747.6 259.8 L1750.6 259.8 L1753.6 259.7 L1756.6 259.7 L1759.5 259.6 L1762.5 259.5 L1765.5 259.5 L1768.5 259.4 L1771.4 259.4 L1774.4 259.3 L1777.4 259.3 L1780.4 259.2 L1783.3 259.1 L1786.3 259.1 L1789.3 259.0 L1792.3 259.0 L1795.2 258.9 L1798.2 258.9 L1801.2 258.8 L1804.2 258.8 L1807.2 258.7 L1810.1 258.6 L1813.1 258.6 L1816.1 258.5 L1819.1 258.5 L1822.0 258.4 L1825.0 258.4 L1828.0 258.3 L1831.0 258.3 L1833.9 258.2 L1836.9 258.2 L1839.9 258.1 L1842.9 258.1 L1845.8 258.0 L1848.8 258.0 L1851.8 257.9 L1854.8 257.9 L1857.8 257.8 L1860.7 257.7 L1863.7 257.7 L1866.7 257.6 L1869.7 257.6 L1872.6 257.5 L1875.6 257.5 L1878.6 257.4 L1881.6 257.4 L1884.5 257.3 L1887.5 257.3 L1890.5 257.2 L1893.5 257.2 L1896.4 257.1 L1899.4 257.1 L1902.4 257.0 L1905.4 257.0 L1908.4 256.9 L1911.3 256.9 L1914.3 256.8 L1917.3 256.8 L1920.3 256.7 L1923.2 256.6 L1926.2 256.6 L1929.2 256.5 L1932.2 256.5 L1935.1 256.4 L1938.1 256.4 L1941.1 256.3 L1944.1 256.3 L1947.0 256.2 L1950.0 256.2 L1953.0 256.1" stroke="#8c564b" stroke-width="5.0" fill="none" stroke-linejoin="round" stroke-linecap="butt"/><path d="M199.5 850.4V915.6M190.5 850.4H208.5M190.5 915.6H208.5M268.5 764.4V829.6M259.5 764.4H277.5M259.5 829.6H277.5M338.5 611.0V676.2M329.5 611.0H347.5M329.5 676.2H347.5M408.0 483.2V548.4M399.0 483.2H417.0M399.0 548.4H417.0M529.6 333.0V398.2M520.6 333.0H538.6M520.6 398.2H538.6M686.8 250.8V316.0M677.8 250.8H695.8M677.8 316.0H695.8M854.7 248.3V313.5M845.7 248.3H863.7M845.7 313.5H863.7M993.8 232.1V297.3M984.8 232.1H1002.8M984.8 297.3H1002.8M1157.8 223.5V288.7M1148.8 223.5H1166.8M1148.8 288.7H1166.8M1419.4 213.0V278.2M1410.4 213.0H1428.4M1410.4 278.2H1428.4M1767.4 205.0V270.2M1758.4 205.0H1776.4M1758.4 270.2H1776.4" stroke="#e377c2" stroke-width="5.0" fill="none"/><path d="M199.5 903.5 L202.1 902.6 L204.8 901.7 L207.4 900.7 L210.0 899.5 L213.0 897.7 L216.0 895.5 L219.0 893.0 L222.0 890.1 L225.0 887.0 L227.8 883.9 L230.5 880.3 L233.2 876.4 L236.0 872.2 L238.8 867.7 L241.5 863.0 L244.2 858.1 L247.0 853.0 L249.9 847.3 L252.8 841.0 L255.6 834.2 L258.5 827.2 L261.4 819.9 L264.2 812.5 L267.1 805.2 L270.0 798.0 L272.9 790.9 L275.8 783.7 L278.6 776.4 L281.5 769.1 L284.4 761.7 L287.2 754.4 L290.1 747.2 L293.0 740.0 L295.9 732.9 L298.8 725.8 L301.6 718.7 L304.5 711.6 L307.4 704.6 L310.2 697.6 L313.1 690.8 L316.0 684.0 L318.8 677.6 L321.6 671.2 L324.3 664.9 L327.1 658.6 L329.9 652.4 L332.7 646.3 L335.4 640.2 L338.2 634.1 L341.0 628.0 L343.8 622.0 L346.5 615.9 L349.2 609.8 L352.0 603.8 L354.8 597.8 L357.5 592.0 L360.2 586.4 L363.0 581.0 L365.9 575.6 L368.8 570.4 L371.6 565.4 L374.5 560.5 L377.4 555.6 L380.2 550.8 L383.1 545.9 L386.0 541.0 L388.8 536.2 L391.6 531.3 L394.3 526.5 L397.1 521.7 L399.9 516.9 L402.7 512.1 L405.4 507.3 L408.2 502.6 L411.0 498.0 L413.8 493.4 L416.6 488.7 L419.4 484.1 L422.2 479.6 L425.0 475.2 L427.8 470.9 L430.6 466.7 L433.6 462.4 L436.5 458.2 L439.5 454.2 L442.5 450.2 L445.4 446.4 L448.4 442.7 L451.1 439.5 L453.7 436.4 L456.4 433.4 L459.1 430.5 L461.7 427.7 L464.4 424.9 L467.2 422.1 L470.0 419.4 L472.8 416.6 L475.7 413.6 L478.5 410.6 L481.4 407.5 L484.2 404.3 L487.1 401.1 L489.9 398.0 L492.8 394.8 L495.6 391.7 L498.5 388.6 L501.3 385.6 L504.2 382.5 L507.0 379.5 L509.9 376.4 L512.7 373.4 L515.6 370.4 L518.4 367.5 L521.3 364.5 L524.1 361.6 L527.0 358.8 L529.8 356.0 L532.6 353.2 L535.5 350.5 L538.3 347.8 L541.2 345.2 L544.0 342.5 L546.9 340.0 L549.7 337.4 L552.6 335.0 L555.4 332.6 L558.2 330.3 L561.1 328.0 L563.9 325.8 L566.8 323.6 L569.6 321.5 L572.5 319.4 L575.4 317.3 L578.2 315.2 L581.0 313.2 L583.9 311.2 L586.7 309.2 L589.6 307.3 L592.4 305.4 L595.3 303.6 L598.1 301.7 L601.0 299.9 L603.8 298.0 L606.7 296.1 L609.5 294.2 L612.0 292.4 L614.5 290.6 L617.0 288.8 L619.5 287.1 L622.0 285.5 L624.5 284.1 L627.0 282.7 L629.5 281.5 L632.0 280.5 L634.6 279.7 L637.2 278.8 L639.8 278.2 L642.4 277.7 L645.0 277.5 L648.0 277.5 L651.0 277.6 L654.0 277.6 L657.0 277.7 L660.0 277.8 L662.6 278.0 L665.2 278.3 L667.8 278.7 L670.5 279.1 L673.1 279.6 L675.7 280.1 L678.3 280.5 L681.0 280.9 L683.7 281.3 L686.4 281.7 L689.1 282.0 L691.9 282.4 L694.6 282.8 L697.3 283.1 L700.0 283.5 L702.8 283.9 L705.7 284.2 L708.5 284.6 L711.3 285.0 L714.1 285.4 L717.0 285.8 L719.8 286.1 L722.6 286.5 L725.4 286.9 L728.3 287.2 L731.1 287.5 L733.9 287.8 L736.7 288.1 L739.6 288.3 L742.4 288.5 L745.2 288.7 L748.1 288.9 L750.9 289.1 L753.8 289.3 L756.6 289.4 L759.5 289.6 L762.4 289.7 L765.2 289.8 L768.0 289.9 L770.9 289.9 L773.7 289.9 L776.6 289.8 L779.4 289.6 L782.3 289.5 L785.1 289.2 L788.0 289.0 L790.8 288.7 L793.7 288.4 L796.5 288.0 L799.4 287.6 L802.2 287.3 L805.1 286.9 L807.9 286.5 L810.8 286.1 L813.6 285.7 L816.5 285.3 L819.3 284.8 L822.1 284.2 L825.0 283.6 L827.9 283.0 L830.7 282.4 L833.6 281.7 L836.4 281.1 L839.2 280.5 L842.1 280.0 L845.0 279.5 L848.0 278.9 L850.9 278.4 L853.8 277.9 L856.7 277.4 L859.6 276.8 L862.6 276.3 L865.5 275.8 L868.4 275.3 L871.4 274.8 L874.3 274.2 L877.2 273.7 L880.1 273.3 L883.0 272.8 L886.0 272.3 L888.9 271.8 L891.8 271.4 L894.8 270.9 L897.7 270.5 L900.6 270.0 L903.5 269.6 L906.5 269.2 L909.4 268.9 L912.3 268.5 L915.2 268.1 L918.1 267.8 L921.1 267.5 L924.0 267.2 L926.9 266.9 L929.8 266.7 L932.7 266.4 L935.6 266.1 L938.5 265.9 L941.5 265.7 L944.4 265.4 L947.3 265.2 L950.2 265.0 L953.1 264.8 L956.0 264.6 L958.9 264.4 L961.8 264.2 L964.7 264.0 L967.6 263.8 L970.5 263.6 L973.4 263.5 L976.3 263.3 L979.3 263.1 L982.2 262.9 L985.1 262.7 L988.0 262.6 L990.9 262.4 L993.8 262.2 L996.7 262.0 L999.7 261.8 L1002.6 261.7 L1005.5 261.5 L1008.5 261.3 L1011.4 261.2 L1014.3 261.0 L1017.3 260.8 L1020.2 260.7 L1023.1 260.5 L1026.1 260.4 L1029.0 260.2 L1032.0 260.1 L1034.9 259.9 L1037.8 259.8 L1040.8 259.6 L1043.7 259.5 L1046.6 259.4 L1049.6 259.2 L1052.5 259.1 L1055.4 258.9 L1058.4 258.8 L1061.3 258.6 L1064.2 258.5 L1067.2 258.4 L1070.1 258.2 L1073.0 258.1 L1076.0 257.9 L1078.9 257.8 L1081.8 257.6 L1084.8 257.5 L1087.7 257.3 L1090.7 257.2 L1093.6 257.0 L1096.5 256.9 L1099.5 256.7 L1102.4 256.5 L1105.3 256.4 L1108.3 256.2 L1111.2 256.0 L1114.1 255.9 L1117.1 255.7 L1120.0 255.5 L1123.0 255.3 L1125.9 255.1 L1128.9 254.9 L1131.9 254.7 L1134.8 254.5 L1137.8 254.2 L1140.7 254.0 L1143.7 253.7 L1146.7 253.5 L1149.6 253.3 L1152.6 253.0 L1155.6 252.8 L1158.5 252.5 L1161.5 252.3 L1164.4 252.0 L1167.4 251.8 L1170.4 251.5 L1173.3 251.3 L1176.3 251.1 L1179.3 250.9 L1182.2 250.7 L1185.2 250.5 L1188.1 250.3 L1191.1 250.1 L1194.1 250.0 L1197.0 249.8 L1200.0 249.7 L1203.0 249.6 L1206.0 249.5 L1209.0 249.4 L1212.0 249.2 L1215.0 249.1 L1218.0 249.0 L1221.0 248.9 L1224.0 248.8 L1227.0 248.8 L1230.0 248.7 L1233.0 248.6 L1236.0 248.5 L1239.0 248.4 L1242.0 248.3 L1245.0 248.3 L1248.0 248.2 L1251.0 248.1 L1254.0 248.0 L1257.0 248.0 L1260.0 247.9 L1263.0 247.8 L1266.0 247.8 L1269.0 247.7 L1272.0 247.6 L1275.0 247.6 L1278.0 247.5 L1281.0 247.4 L1284.0 247.4 L1287.0 247.3 L1290.0 247.3 L1293.0 247.2 L1296.0 247.1 L1299.0 247.1 L1302.0 247.0 L1305.0 246.9 L1308.0 246.9 L1311.0 246.8 L1314.0 246.7 L1317.0 246.6 L1320.0 246.6 L1323.0 246.5 L1326.0 246.4 L1329.0 246.3 L1332.0 246.3 L1335.0 246.2 L1338.0 246.1 L1341.0 246.0 L1344.0 245.9 L1347.0 245.8 L1349.9 245.7 L1352.9 245.6 L1355.9 245.5 L1358.9 245.4 L1361.8 245.3 L1364.8 245.1 L1367.8 245.0 L1370.8 244.9 L1373.7 244.8 L1376.7 244.6 L1379.7 244.5 L1382.6 244.4 L1385.6 244.3 L1388.6 244.1 L1391.6 244.0 L1394.5 243.9 L1397.5 243.7 L1400.5 243.6 L1403.5 243.5 L1406.4 243.3 L1409.4 243.2 L1412.4 243.1 L1415.4 243.0 L1418.3 242.8 L1421.3 242.7 L1424.3 242.6 L1427.2 242.5 L1430.2 242.4 L1433.2 242.3 L1436.2 242.2 L1439.1 242.1 L1442.1 242.0 L1445.1 241.9 L1448.1 241.8 L1451.0 241.8 L1454.0 241.7 L1456.9 241.6 L1459.9 241.6 L1462.8 241.5 L1465.8 241.5 L1468.7 241.4 L1471.7 241.4 L1474.6 241.3 L1477.6 241.3 L1480.5 241.2 L1483.4 241.2 L1486.4 241.1 L1489.3 241.1 L1492.3 241.0 L1495.2 241.0 L1498.2 240.9 L1501.1 240.9 L1504.1 240.9 L1507.0 240.8 L1509.9 240.8 L1512.9 240.7 L1515.8 240.7 L1518.8 240.7 L1521.7 240.6 L1524.7 240.6 L1527.6 240.5 L1530.6 240.5 L1533.5 240.5 L1536.4 240.4 L1539.4 240.4 L1542.3 240.4 L1545.3 240.3 L1548.2 240.3 L1551.2 240.2 L1554.1 240.2 L1557.1 240.1 L1560.0 240.1 L1563.0 240.1 L1566.0 240.0 L1569.0 240.0 L1572.0 239.9 L1575.0 239.9 L1578.0 239.8 L1581.0 239.8 L1584.0 239.7 L1587.0 239.7 L1590.0 239.6 L1593.0 239.6 L1596.0 239.6 L1599.0 239.5 L1602.0 239.5 L1605.0 239.4 L1608.0 239.4 L1611.0 239.3 L1614.0 239.3 L1617.0 239.2 L1620.0 239.2 L1623.0 239.1 L1626.0 239.1 L1629.0 239.1 L1632.0 239.0 L1635.0 239.0 L1638.0 238.9 L1641.0 238.9 L1644.0 238.8 L1647.0 238.8 L1650.0 238.7 L1653.0 238.7 L1656.0 238.7 L1659.0 238.6 L1662.0 238.6 L1665.0 238.5 L1668.0 238.5 L1671.0 238.4 L1674.0 238.4 L1677.0 238.3 L1680.0 238.3 L1683.0 238.2 L1686.0 238.2 L1689.0 238.1 L1692.0 238.1 L1695.0 238.0 L1698.0 238.0 L1701.0 238.0 L1704.0 237.9 L1707.0 237.9 L1710.0 237.8 L1713.0 237.8 L1716.0 237.7 L1719.0 237.7 L1722.0 237.6 L1725.0 237.6 L1728.0 237.5 L1731.0 237.5 L1734.0 237.4 L1737.0 237.4 L1740.0 237.3 L1743.0 237.3 L1746.0 237.2 L1749.0 237.2 L1752.0 237.1 L1755.0 237.1 L1758.0 237.0 L1761.0 237.0 L1764.0 236.9 L1767.0 236.8 L1770.0 236.8 L1773.0 236.7 L1776.0 236.7 L1779.0 236.6 L1782.0 236.6 L1785.0 236.5 L1788.0 236.5 L1791.0 236.4 L1794.0 236.3 L1797.0 236.3 L1800.0 236.2 L1803.0 236.2 L1806.0 236.1 L1809.0 236.1 L1812.0 236.0 L1815.0 235.9 L1818.0 235.9 L1821.0 235.8 L1824.0 235.8 L1827.0 235.7 L1830.0 235.6 L1833.0 235.6 L1836.0 235.5 L1839.0 235.5 L1842.0 235.4 L1845.0 235.3 L1848.0 235.3 L1851.0 235.2 L1854.0 235.2 L1857.0 235.1 L1860.0 235.0 L1863.0 235.0 L1866.0 234.9 L1869.0 234.8 L1872.0 234.8 L1875.0 234.7 L1878.0 234.7 L1881.0 234.6 L1884.0 234.5 L1887.0 234.5 L1890.0 234.4 L1893.0 234.3 L1896.0 234.3 L1899.0 234.2 L1902.0 234.2 L1905.0 234.1 L1908.0 234.0 L1911.0 234.0 L1914.0 233.9 L1917.0 233.8 L1920.0 233.8 L1923.0 233.7 L1926.0 233.7 L1929.0 233.6 L1932.0 233.5 L1935.0 233.5 L1938.0 233.4 L1941.0 233.3 L1944.0 233.3 L1947.0 233.2 L1950.0 233.2 L1953.0 233.1" stroke="#7f7f7f" stroke-width="5.0" fill="none" stroke-linejoin="round" stroke-linecap="butt"/><path d="M199.5 821.4V886.6M190.5 821.4H208.5M190.5 886.6H208.5M303.8 697.3V762.5M294.8 697.3H312.8M294.8 762.5H312.8M459.6 480.7V545.9M450.6 480.7H468.6M450.6 545.9H468.6M686.8 320.5V385.7M677.8 320.5H695.8M677.8 385.7H695.8M924.0 220.9V286.1M915.0 220.9H933.0M915.0 286.1H933.0M1192.0 149.9V215.1M1183.0 149.9H1201.0M1183.0 215.1H1201.0M1470.7 98.6V163.8M1461.7 98.6H1479.7M1461.7 163.8H1479.7M1790.8 91.6V156.8M1781.8 91.6H1799.8M1781.8 156.8H1799.8" stroke="#bcbd22" stroke-width="5.0" fill="none"/><path d="M199.5 903.5 L202.1 901.8 L204.8 900.1 L207.4 898.4 L210.0 896.5 L212.7 894.4 L215.3 892.2 L218.0 889.8 L220.7 887.3 L223.3 884.7 L226.0 882.0 L229.0 878.8 L232.0 875.5 L235.0 872.0 L238.0 868.3 L241.0 864.5 L244.0 860.5 L247.0 856.4 L250.0 852.0 L252.9 847.6 L255.8 843.0 L258.7 838.1 L261.6 833.0 L264.5 827.8 L267.3 822.3 L270.2 816.7 L273.1 811.0 L276.0 805.0 L278.9 799.0 L281.8 792.8 L284.4 786.9 L286.9 780.4 L289.4 774.0 L292.0 768.0 L294.8 762.0 L297.6 756.4 L300.3 750.9 L303.1 745.5 L305.9 740.3 L308.7 735.1 L311.4 730.0 L314.2 724.7 L317.0 719.4 L319.5 714.5 L322.0 709.6 L324.5 704.7 L327.0 700.0 L329.6 695.2 L332.2 690.5 L334.8 685.8 L337.4 681.3 L340.0 677.0 L342.9 672.3 L345.8 667.7 L348.7 663.2 L351.7 658.8 L354.6 654.4 L357.5 650.1 L360.4 645.9 L363.3 641.7 L366.2 637.6 L369.1 633.5 L372.0 629.4 L375.0 625.4 L377.9 621.4 L380.8 617.4 L383.7 613.4 L386.5 609.6 L389.2 605.9 L392.0 602.2 L394.7 598.4 L397.5 594.8 L400.2 591.1 L403.0 587.6 L405.8 584.0 L408.5 580.6 L411.3 577.2 L414.0 573.9 L416.8 570.7 L419.7 567.5 L422.5 564.3 L425.4 561.2 L428.3 558.2 L431.1 555.2 L434.0 552.3 L436.9 549.4 L439.7 546.6 L442.6 543.8 L445.5 541.0 L448.3 538.2 L451.2 535.4 L454.1 532.6 L456.9 529.8 L459.8 527.0 L462.7 524.1 L465.7 521.2 L468.6 518.2 L471.5 515.3 L474.4 512.4 L477.4 509.5 L480.3 506.7 L483.2 503.9 L486.1 501.2 L489.1 498.6 L492.0 496.0 L495.0 493.5 L498.0 491.0 L501.0 488.7 L504.0 486.4 L507.0 484.1 L510.0 481.9 L513.0 479.7 L516.0 477.5 L519.0 475.2 L522.0 473.0 L525.0 470.7 L528.0 468.4 L531.0 466.0 L533.7 463.8 L536.5 461.5 L539.2 459.2 L541.9 456.8 L544.6 454.5 L547.4 452.1 L550.1 449.7 L552.8 447.4 L555.6 445.0 L558.3 442.7 L561.0 440.4 L563.8 438.0 L566.5 435.6 L569.3 433.2 L572.0 431.0 L574.8 428.8 L577.5 426.7 L580.3 424.7 L583.1 422.8 L585.9 420.9 L588.8 419.2 L591.6 417.4 L594.4 415.7 L597.2 414.1 L600.0 412.4 L602.8 410.8 L605.7 409.1 L608.5 407.6 L611.4 406.0 L614.2 404.5 L617.1 403.0 L619.9 401.5 L622.8 400.1 L625.6 398.6 L628.5 397.1 L631.3 395.7 L634.2 394.2 L637.0 392.7 L639.9 391.2 L642.7 389.6 L645.5 388.0 L648.4 386.4 L651.2 384.9 L654.1 383.2 L656.9 381.6 L659.8 380.0 L662.6 378.4 L665.5 376.8 L668.3 375.1 L671.2 373.5 L674.0 371.9 L676.9 370.3 L679.7 368.6 L682.6 367.0 L685.4 365.4 L688.3 363.8 L691.1 362.1 L694.0 360.5 L696.8 358.9 L699.7 357.2 L702.5 355.6 L705.4 353.9 L708.2 352.3 L711.1 350.7 L713.9 349.0 L716.8 347.4 L719.6 345.9 L722.5 344.3 L725.3 342.7 L728.2 341.2 L731.0 339.7 L733.9 338.2 L736.7 336.7 L739.6 335.3 L742.4 333.8 L745.3 332.4 L748.1 330.9 L751.0 329.5 L753.8 328.1 L756.7 326.7 L759.5 325.3 L762.4 323.9 L765.2 322.5 L768.1 321.2 L770.9 319.8 L773.7 318.4 L776.6 317.1 L779.4 315.7 L782.3 314.3 L785.1 313.0 L788.0 311.6 L790.8 310.3 L793.7 309.0 L796.5 307.6 L799.4 306.4 L802.2 305.1 L805.1 303.9 L807.9 302.7 L810.8 301.6 L813.6 300.5 L816.5 299.4 L819.3 298.4 L822.1 297.5 L825.0 296.5 L827.9 295.5 L830.7 294.5 L833.5 293.4 L836.4 292.3 L839.2 291.1 L842.1 289.9 L844.5 288.7 L846.9 287.4 L849.4 286.0 L851.8 284.6 L854.2 283.4 L857.1 282.1 L860.0 280.8 L862.9 279.5 L865.8 278.3 L868.7 277.1 L871.7 275.9 L874.6 274.8 L877.5 273.7 L880.4 272.6 L883.3 271.5 L886.2 270.4 L889.1 269.4 L892.0 268.3 L894.9 267.3 L897.8 266.3 L900.7 265.3 L903.6 264.3 L906.5 263.3 L909.5 262.3 L912.4 261.3 L915.3 260.3 L918.2 259.2 L921.1 258.2 L924.0 257.2 L926.9 256.2 L929.8 255.1 L932.7 254.1 L935.6 253.1 L938.5 252.0 L941.5 251.0 L944.4 250.0 L947.3 249.0 L950.2 247.9 L953.1 246.9 L956.0 245.9 L958.9 244.9 L961.8 243.9 L964.7 242.9 L967.6 242.0 L970.5 241.0 L973.4 240.0 L976.3 239.1 L979.3 238.1 L982.2 237.2 L985.1 236.3 L988.0 235.4 L990.9 234.5 L993.8 233.6 L996.8 232.7 L999.8 231.8 L1002.8 231.0 L1005.8 230.1 L1008.8 229.3 L1011.8 228.5 L1014.8 227.7 L1017.8 226.9 L1020.8 226.1 L1023.8 225.3 L1026.8 224.5 L1029.8 223.7 L1032.8 222.9 L1035.8 222.1 L1038.8 221.4 L1041.8 220.6 L1044.8 219.8 L1047.8 219.0 L1050.8 218.2 L1053.8 217.4 L1056.8 216.6 L1059.8 215.7 L1062.8 214.9 L1065.7 214.1 L1068.5 213.2 L1071.4 212.4 L1074.2 211.5 L1077.1 210.7 L1080.0 209.8 L1082.8 208.9 L1085.7 208.0 L1088.5 207.1 L1091.4 206.2 L1094.3 205.3 L1097.1 204.5 L1100.0 203.6 L1102.8 202.7 L1105.7 201.9 L1108.6 201.1 L1111.4 200.3 L1114.3 199.5 L1117.1 198.7 L1120.0 198.0 L1123.0 197.3 L1126.0 196.5 L1129.0 195.8 L1132.0 195.1 L1135.0 194.4 L1138.0 193.7 L1141.0 193.1 L1144.0 192.4 L1147.0 191.8 L1150.0 191.1 L1153.0 190.5 L1156.0 189.9 L1159.0 189.2 L1162.0 188.6 L1165.0 188.0 L1168.0 187.4 L1171.0 186.8 L1174.0 186.2 L1177.0 185.6 L1180.0 185.0 L1183.0 184.4 L1186.0 183.7 L1189.0 183.1 L1192.0 182.5 L1195.0 181.9 L1197.9 181.3 L1200.9 180.6 L1203.9 180.0 L1206.8 179.4 L1209.8 178.8 L1212.8 178.2 L1215.7 177.6 L1218.7 176.9 L1221.7 176.3 L1224.6 175.7 L1227.6 175.1 L1230.6 174.5 L1233.5 173.9 L1236.5 173.3 L1239.5 172.6 L1242.4 172.0 L1245.4 171.4 L1248.4 170.8 L1251.3 170.2 L1254.3 169.6 L1257.3 169.0 L1260.2 168.4 L1263.2 167.8 L1266.1 167.2 L1269.1 166.6 L1272.1 166.0 L1275.0 165.4 L1278.0 164.8 L1281.0 164.2 L1283.9 163.7 L1286.9 163.1 L1289.9 162.5 L1292.8 161.9 L1295.8 161.3 L1298.8 160.7 L1301.7 160.2 L1304.7 159.6 L1307.7 159.0 L1310.6 158.5 L1313.6 157.9 L1316.6 157.3 L1319.5 156.8 L1322.5 156.2 L1325.5 155.7 L1328.4 155.1 L1331.4 154.6 L1334.4 154.1 L1337.3 153.5 L1340.3 153.0 L1343.3 152.4 L1346.2 151.9 L1349.2 151.4 L1352.1 150.8 L1355.1 150.3 L1358.1 149.8 L1361.0 149.3 L1364.0 148.7 L1367.0 148.2 L1369.9 147.7 L1372.9 147.2 L1375.9 146.7 L1378.8 146.1 L1381.8 145.6 L1384.7 145.1 L1387.7 144.6 L1390.7 144.1 L1393.6 143.6 L1396.6 143.1 L1399.6 142.6 L1402.5 142.1 L1405.5 141.6 L1408.5 141.1 L1411.4 140.6 L1414.4 140.1 L1417.4 139.6 L1420.3 139.1 L1423.3 138.6 L1426.2 138.2 L1429.2 137.7 L1432.2 137.2 L1435.1 136.7 L1438.1 136.3 L1441.1 135.8 L1444.0 135.3 L1447.0 134.8 L1450.0 134.4 L1452.9 133.9 L1455.9 133.5 L1458.8 133.0 L1461.8 132.5 L1464.8 132.1 L1467.7 131.6 L1470.7 131.2 L1473.6 130.8 L1476.5 130.4 L1479.4 129.9 L1482.2 129.5 L1485.1 129.1 L1488.0 128.7 L1490.9 128.4 L1493.8 128.0 L1496.7 127.6 L1499.6 127.2 L1502.5 126.8 L1505.3 126.4 L1508.2 126.1 L1511.1 125.7 L1514.0 125.3 L1516.9 124.9 L1519.8 124.5 L1522.7 124.1 L1525.6 123.7 L1528.5 123.3 L1531.3 122.9 L1534.2 122.5 L1537.1 122.0 L1540.0 121.6 L1542.9 121.1 L1545.7 120.7 L1548.6 120.1 L1551.4 119.6 L1554.3 119.1 L1557.1 118.7 L1560.0 118.2 L1562.8 117.8 L1565.7 117.3 L1568.5 116.9 L1571.4 116.5 L1574.2 116.1 L1577.1 115.7 L1579.9 115.3 L1582.7 114.9 L1585.6 114.5 L1588.4 114.2 L1591.3 113.8 L1594.1 113.5 L1597.0 113.1 L1599.8 112.8 L1602.6 112.5 L1605.5 112.2 L1608.3 111.8 L1611.2 111.5 L1614.0 111.2 L1616.9 110.9 L1619.7 110.7 L1622.5 110.4 L1625.4 110.1 L1628.2 109.8 L1631.1 109.6 L1633.9 109.3 L1636.8 109.1 L1639.6 108.9 L1642.2 108.7 L1644.9 108.5 L1647.5 108.4 L1650.2 108.2 L1652.8 108.1 L1655.5 107.9 L1658.5 107.7 L1661.5 107.3 L1664.5 107.0 L1667.5 106.7 L1670.4 106.4 L1673.4 106.1 L1676.4 106.0 L1679.4 105.9 L1682.4 106.0 L1685.4 106.2 L1688.4 106.6 L1691.3 107.0 L1694.3 107.5 L1697.3 108.0 L1700.3 108.4 L1703.3 108.9 L1706.3 109.3 L1709.3 109.8 L1712.2 110.3 L1715.2 110.7 L1718.2 111.2 L1721.2 111.7 L1724.2 112.2 L1727.2 112.8 L1730.1 113.3 L1733.1 113.8 L1736.1 114.3 L1739.1 114.8 L1742.1 115.3 L1745.1 115.8 L1748.1 116.3 L1751.1 116.8 L1754.0 117.4 L1757.0 117.9 L1760.0 118.4 L1763.0 118.9 L1766.0 119.3 L1769.0 119.8 L1771.7 120.2 L1774.5 120.7 L1777.2 121.1 L1779.9 121.6 L1782.6 122.0 L1785.3 122.3 L1788.1 122.6 L1790.8 122.8 L1793.6 123.0 L1796.4 123.1 L1799.2 123.3 L1802.0 123.4 L1804.8 123.5 L1807.5 123.6 L1810.3 123.7 L1813.1 123.7 L1815.9 123.8 L1818.7 123.8 L1821.7 123.8 L1824.7 123.8 L1827.7 123.8 L1830.7 123.8 L1833.7 123.8 L1836.6 123.8 L1839.6 123.8 L1842.6 123.8 L1845.6 123.8 L1848.6 123.8 L1851.6 123.7 L1854.6 123.6 L1857.5 123.3 L1860.5 123.0 L1863.5 122.7 L1866.5 122.3 L1869.5 121.9 L1872.4 121.5 L1875.4 121.1 L1878.4 120.8 L1881.2 120.5 L1884.1 120.2 L1886.9 119.9 L1889.8 119.6 L1892.6 119.3 L1895.5 119.1 L1898.3 118.8 L1901.1 118.5 L1904.0 118.2 L1906.8 117.9 L1909.7 117.6 L1912.5 117.3 L1915.4 117.1 L1918.2 116.8 L1921.1 116.5 L1923.9 116.2 L1926.8 116.0 L1929.7 115.7 L1932.5 115.4 L1935.4 115.2 L1938.2 115.0 L1941.1 114.8 L1943.9 114.7 L1946.8 114.5 L1949.6 114.4 L1952.5 114.3 L1955.3 114.2" stroke="#17becf" stroke-width="5.0" fill="none" stroke-linejoin="round" stroke-linecap="butt"/><g fill="#1f77b4"><circle cx="217.6" cy="876.2" r="9.3"/><circle cx="234.5" cy="865.0" r="9.3"/><circle cx="269.0" cy="812.6" r="9.3"/><circle cx="303.5" cy="747.5" r="9.3"/><circle cx="338.5" cy="686.3" r="9.3"/><circle cx="373.2" cy="632.5" r="9.3"/><circle cx="408.0" cy="584.3" r="9.3"/><circle cx="442.7" cy="546.6" r="9.3"/><circle cx="478.0" cy="512.5" r="9.3"/><circle cx="512.7" cy="483.0" r="9.3"/><circle cx="547.0" cy="459.5" r="9.3"/><circle cx="565.0" cy="451.5" r="9.3"/><circle cx="575.0" cy="448.0" r="9.3"/><circle cx="617.3" cy="447.3" r="9.3"/><circle cx="652.2" cy="450.8" r="9.3"/><circle cx="686.7" cy="455.0" r="9.3"/><circle cx="721.0" cy="456.5" r="9.3"/><circle cx="755.8" cy="455.3" r="9.3"/><circle cx="790.7" cy="450.3" r="9.3"/><circle cx="825.6" cy="444.1" r="9.3"/><circle cx="860.5" cy="436.6" r="9.3"/><circle cx="895.9" cy="432.9" r="9.3"/><circle cx="930.2" cy="430.4" r="9.3"/><circle cx="983.3" cy="430.4" r="9.3"/><circle cx="1069.7" cy="426.6" r="9.3"/><circle cx="1157.0" cy="421.5" r="9.3"/><circle cx="1244.0" cy="415.5" r="9.3"/><circle cx="1419.0" cy="410.7" r="9.3"/><circle cx="1592.5" cy="406.0" r="9.3"/><circle cx="1767.0" cy="401.5" r="9.3"/><circle cx="1941.0" cy="400.1" r="9.3"/></g><g fill="#2ca02c"><circle cx="199.5" cy="884.0" r="9.3"/><circle cx="234.0" cy="857.0" r="9.3"/><circle cx="268.5" cy="797.5" r="9.3"/><circle cx="303.8" cy="711.0" r="9.3"/><circle cx="338.5" cy="640.0" r="9.3"/><circle cx="373.9" cy="573.0" r="9.3"/><circle cx="408.0" cy="512.0" r="9.3"/><circle cx="459.6" cy="453.5" r="9.3"/><circle cx="529.6" cy="440.3" r="9.3"/><circle cx="593.0" cy="451.6" r="9.3"/><circle cx="668.6" cy="434.1" r="9.3"/><circle cx="739.2" cy="417.9" r="9.3"/><circle cx="808.7" cy="412.9" r="9.3"/><circle cx="878.4" cy="412.2" r="9.3"/><circle cx="983.3" cy="403.7" r="9.3"/><circle cx="1069.7" cy="399.2" r="9.3"/><circle cx="1157.8" cy="397.0" r="9.3"/><circle cx="1244.0" cy="394.8" r="9.3"/><circle cx="1419.0" cy="389.0" r="9.3"/><circle cx="1592.5" cy="386.0" r="9.3"/><circle cx="1767.0" cy="383.9" r="9.3"/><circle cx="1941.0" cy="381.5" r="9.3"/></g><g fill="#9467bd"><circle cx="199.5" cy="891.6" r="9.3"/><circle cx="234.0" cy="877.9" r="9.3"/><circle cx="269.0" cy="827.6" r="9.3"/><circle cx="303.5" cy="761.5" r="9.3"/><circle cx="338.5" cy="698.8" r="9.3"/><circle cx="373.2" cy="642.7" r="9.3"/><circle cx="408.0" cy="596.7" r="9.3"/><circle cx="460.3" cy="540.7" r="9.3"/><circle cx="530.1" cy="481.9" r="9.3"/><circle cx="593.0" cy="436.5" r="9.3"/><circle cx="668.6" cy="388.0" r="9.3"/><circle cx="739.2" cy="350.7" r="9.3"/><circle cx="854.2" cy="302.1" r="9.3"/><circle cx="924.0" cy="300.8" r="9.3"/><circle cx="993.8" cy="312.0" r="9.3"/><circle cx="1069.7" cy="308.8" r="9.3"/><circle cx="1157.8" cy="290.7" r="9.3"/><circle cx="1279.2" cy="288.2" r="9.3"/><circle cx="1419.4" cy="279.2" r="9.3"/><circle cx="1592.2" cy="271.5" r="9.3"/><circle cx="1767.4" cy="267.3" r="9.3"/><circle cx="1941.3" cy="263.2" r="9.3"/></g><g fill="#e377c2"><circle cx="199.5" cy="883.0" r="9.3"/><circle cx="233.9" cy="860.8" r="9.3"/><circle cx="268.5" cy="797.0" r="9.3"/><circle cx="303.8" cy="717.4" r="9.3"/><circle cx="338.5" cy="643.6" r="9.3"/><circle cx="373.9" cy="575.6" r="9.3"/><circle cx="408.0" cy="515.8" r="9.3"/><circle cx="460.0" cy="441.0" r="9.3"/><circle cx="529.6" cy="365.6" r="9.3"/><circle cx="620.3" cy="294.9" r="9.3"/><circle cx="686.8" cy="283.4" r="9.3"/><circle cx="763.8" cy="295.1" r="9.3"/><circle cx="854.7" cy="280.9" r="9.3"/><circle cx="924.0" cy="269.7" r="9.3"/><circle cx="993.8" cy="264.7" r="9.3"/><circle cx="1069.7" cy="263.5" r="9.3"/><circle cx="1157.8" cy="256.1" r="9.3"/><circle cx="1279.2" cy="251.3" r="9.3"/><circle cx="1419.4" cy="245.6" r="9.3"/><circle cx="1592.2" cy="241.7" r="9.3"/><circle cx="1767.4" cy="237.6" r="9.3"/><circle cx="1941.3" cy="235.3" r="9.3"/></g><g fill="#bcbd22"><circle cx="199.5" cy="854.0" r="9.3"/><circle cx="234.2" cy="837.2" r="9.3"/><circle cx="303.8" cy="729.9" r="9.3"/><circle cx="373.2" cy="615.1" r="9.3"/><circle cx="459.6" cy="513.3" r="9.3"/><circle cx="564.9" cy="428.6" r="9.3"/><circle cx="686.8" cy="353.1" r="9.3"/><circle cx="797.5" cy="300.8" r="9.3"/><circle cx="924.0" cy="253.5" r="9.3"/><circle cx="1062.8" cy="212.4" r="9.3"/><circle cx="1192.0" cy="182.5" r="9.3"/><circle cx="1331.4" cy="154.6" r="9.3"/><circle cx="1470.7" cy="131.2" r="9.3"/><circle cx="1655.1" cy="108.5" r="9.3"/><circle cx="1790.8" cy="124.2" r="9.3"/><circle cx="1941.1" cy="115.4" r="9.3"/></g></g><rect x="199.5" y="33.0" width="1755.8" height="934.5" fill="none" stroke="#1a1a1a" stroke-width="3.0"/><path d="M199.5 967.5V981.0M450.3 967.5V981.0M701.2 967.5V981.0M952.0 967.5V981.0M1202.8 967.5V981.0M1453.6 967.5V981.0M1704.5 967.5V981.0M1955.3 967.5V981.0M199.5 910.4H186.0M199.5 747.2H186.0M199.5 584.0H186.0M199.5 420.9H186.0M199.5 257.7H186.0M199.5 94.5H186.0" stroke="#1a1a1a" stroke-width="3.0"/><g class="th" font-size="53.5" fill="#000"><text x="199.5" y="1036" text-anchor="middle">0.0</text><text x="450.3" y="1036" text-anchor="middle">0.2</text><text x="701.2" y="1036" text-anchor="middle">0.4</text><text x="952.0" y="1036" text-anchor="middle">0.6</text><text x="1202.8" y="1036" text-anchor="middle">0.8</text><text x="1453.6" y="1036" text-anchor="middle">1.0</text><text x="1704.5" y="1036" text-anchor="middle">1.2</text><text x="1955.3" y="1036" text-anchor="middle">1.4</text><text x="169.7" y="930.0" text-anchor="end">20</text><text x="169.7" y="766.8" text-anchor="end">30</text><text x="169.7" y="603.6" text-anchor="end">40</text><text x="169.7" y="440.5" text-anchor="end">50</text><text x="169.7" y="277.3" text-anchor="end">60</text><text x="169.7" y="114.1" text-anchor="end">70</text></g><text x="1076" y="1104.4" font-size="52.7" text-anchor="middle">time (h)</text><text class="tk" transform="translate(75.3 500.5) rotate(-90)" font-size="53.5" text-anchor="middle">Tcell (°C)</text><rect x="1383.6" y="635.7" width="550.7" height="311.7" rx="7" ry="7" fill="#fff" fill-opacity="0.86" stroke="#cccccc" stroke-width="3"/><path d="M1440.5 649.2V690.6M1431.5 649.2H1449.5M1431.5 690.6H1449.5" stroke="#1f77b4" stroke-width="5.0" fill="none"/><circle cx="1440.5" cy="669.9" r="9.3" fill="#1f77b4"/><text x="1513.5" y="683.4" font-size="40.5">Trial 1 (2 °C error)</text><path d="M1440.5 708.8V750.2M1431.5 708.8H1449.5M1431.5 750.2H1449.5" stroke="#2ca02c" stroke-width="5.0" fill="none"/><circle cx="1440.5" cy="729.5" r="9.3" fill="#2ca02c"/><text x="1513.5" y="743.0" font-size="40.5">Trial 2 (2 °C error)</text><path d="M1440.5 768.4V809.8M1431.5 768.4H1449.5M1431.5 809.8H1449.5" stroke="#9467bd" stroke-width="5.0" fill="none"/><circle cx="1440.5" cy="789.1" r="9.3" fill="#9467bd"/><text x="1513.5" y="802.6" font-size="40.5">Trial 3 (2 °C error)</text><path d="M1440.5 828.0V869.4M1431.5 828.0H1449.5M1431.5 869.4H1449.5" stroke="#e377c2" stroke-width="5.0" fill="none"/><circle cx="1440.5" cy="848.7" r="9.3" fill="#e377c2"/><text x="1513.5" y="862.2" font-size="40.5">Trial 4.1 (2 °C error)</text><path d="M1440.5 887.6V929.0M1431.5 887.6H1449.5M1431.5 929.0H1449.5" stroke="#bcbd22" stroke-width="5.0" fill="none"/><circle cx="1440.5" cy="908.3" r="9.3" fill="#bcbd22"/><text x="1513.5" y="921.8" font-size="40.5">Trial 5.1 (2 °C error)</text></svg>
</body></html>
